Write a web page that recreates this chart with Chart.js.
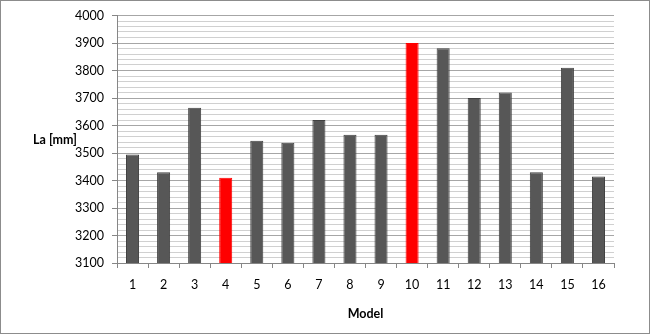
<!DOCTYPE html>
<html>
<head>
<meta charset="utf-8">
<script src="https://cdn.jsdelivr.net/npm/chart.js@4/dist/chart.umd.min.js"></script>
<style>
    html, body { margin: 0; padding: 0; background: #fff; }
    #wrap { width: 650px; height: 334px; position: relative; }
</style>
</head>
<body>
<div id="wrap"><canvas id="chart" width="650" height="334"></canvas></div>
<script>
// values
const models = ['1', '2', '3', '4', '5', '6', '7', '8', '9', '10', '11', '12', '13', '14', '15', '16'];
const laValues = [3495, 3430, 3665, 3410, 3545, 3537, 3620, 3566, 3566, 3900, 3881, 3700, 3720, 3430, 3810, 3415];
const highlighted = ['4', '10'];
const yMin = 3100;
const yMax = 4000;

const barColors = models.map(m => highlighted.includes(m) ? '#ff0000' : '#575757');
const barBorders = models.map(m => highlighted.includes(m) ? '#ff0000' : '#404040');

const frameAndLabel = {
    id: 'frameAndLabel',
    afterDraw(chart) {
        const ctx = chart.ctx;
        ctx.save();
        ctx.strokeStyle = '#8c8c8c';
        ctx.lineWidth = 1;
        ctx.strokeRect(0.5, 0.5, chart.width - 1, chart.height - 1);
        ctx.fillStyle = '#000';
        ctx.font = 'bold 12.5px Lato';
        ctx.textAlign = 'center';
        ctx.textBaseline = 'middle';
        ctx.fillText('La [mm]', 55, 140);
        ctx.restore();
    }
};

new Chart(document.getElementById('chart'), {
    type: 'bar',
    data: {
        labels: models,
        datasets: [{
            label: 'La [mm]',
            data: laValues,
            backgroundColor: barColors,
            borderColor: barBorders,
            borderWidth: 1,
            barPercentage: 0.42,
            categoryPercentage: 1
        }]
    },
    options: {
        responsive: false,
        animation: false,
        layout: { padding: { left: 0, right: 36, top: 15, bottom: 0 } },
        scales: {
            x: {
                grid: {
                    offset: true,
                    drawOnChartArea: false,
                    tickLength: 5,
                    tickColor: '#868686'
                },
                border: { color: '#868686' },
                ticks: { color: '#000', font: { family: 'Lato', size: 12.5 }, padding: 9 },
                title: {
                    display: true,
                    text: 'Model',
                    color: '#000',
                    font: { family: 'Lato', size: 12.5, weight: 'bold' },
                    padding: { top: 4, bottom: 13 }
                },
                afterFit(scale) { scale.height = 71; }
            },
            y: {
                min: yMin,
                max: yMax,
                ticks: {
                    stepSize: 20,
                    color: '#000',
                    font: { family: 'Lato', size: 12.5 },
                    padding: 8,
                    autoSkip: false,
                    callback: v => v % 100 === 0 ? v : ''
                },
                grid: {
                    color: c => c.tick && c.tick.value % 100 === 0 ? '#a6a6a6' : '#d0d0d0',
                    tickColor: c => c.tick && c.tick.value % 100 === 0 ? '#868686' : 'rgba(0,0,0,0)',
                    tickLength: 5
                },
                border: { color: '#868686' },
                afterFit(scale) { scale.width = 117; }
            }
        },
        plugins: {
            legend: { display: false },
            tooltip: { enabled: false }
        }
    },
    plugins: [frameAndLabel]
});
</script>
</body>
</html>
